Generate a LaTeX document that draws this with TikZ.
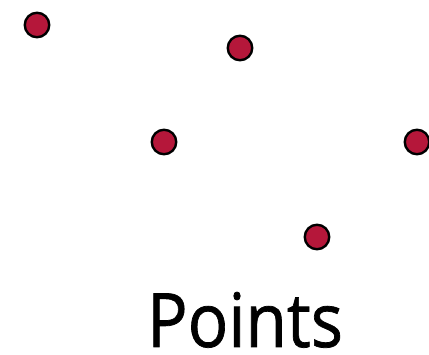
\documentclass[tikz,border=0pt]{standalone}
\usepackage{fontspec}
\newfontfamily\lblfont{Open Sans}[FakeBold=1.0]
\definecolor{dotred}{RGB}{181,23,58}
\begin{document}
\begin{tikzpicture}[x=1pt,y=-1pt,
  pt/.style={circle,draw=black,fill=dotred,line width=2.4pt,minimum size=24.5pt,inner sep=0pt}]
\useasboundingbox (0,0) rectangle (429,355);
\node[pt] (p1) at (37,25) {};
\node[pt] (p2) at (240,48) {};
\node[pt] (p3) at (164,142) {};
\node[pt] (p4) at (417,142) {};
\node[pt] (p5) at (317,237) {};
\node[anchor=base,inner sep=0pt,font=\lblfont\fontsize{75}{80}\selectfont,xscale=0.9] (lbl) at (245,347) {Points};
\end{tikzpicture}
\end{document}
